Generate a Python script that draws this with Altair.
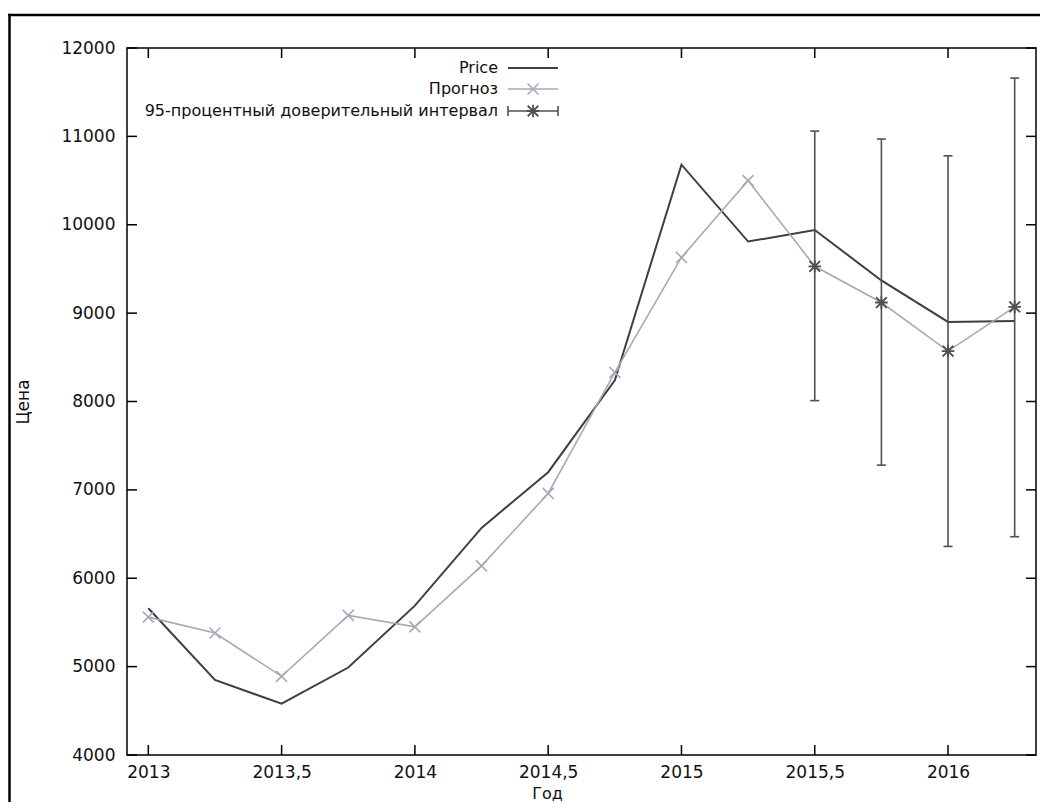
import altair as alt
import pandas as pd

# ---- data ----
quarters = [2013.0, 2013.25, 2013.5, 2013.75, 2014.0, 2014.25, 2014.5, 2014.75,
            2015.0, 2015.25, 2015.5, 2015.75, 2016.0, 2016.25]
price = [5660, 4850, 4580, 4990, 5690, 6570, 7200, 8240,
         10680, 9810, 9940, 9370, 8900, 8910]
forecast = [5560, 5380, 4890, 5580, 5450, 6140, 6960, 8330,
            9630, 10500, 9530, 9120, 8570, 9070]
ci_x = [2015.5, 2015.75, 2016.0, 2016.25]
ci_mid = [9530, 9120, 8570, 9070]
ci_low = [8010, 7280, 6360, 6470]
ci_high = [11060, 10970, 10780, 11660]

x_ticks = [2013, 2013.5, 2014, 2014.5, 2015, 2015.5, 2016]
y_ticks = [4000, 5000, 6000, 7000, 8000, 9000, 10000, 11000, 12000]
legend_labels = ["Price", "Прогноз", "95-процентный доверительный интервал"]

# ---- styling ----
W, H = 909, 707
PAD = {"left": 119, "top": 40, "right": 4, "bottom": 47}
FONT = "DejaVu Sans"
C_PRICE = "#3f3f3f"
C_FC = "#a8a8b8"
C_CI = "#505050"
X_SHAPE = "M-1,-1L1,1M-1,1L1,-1"
STAR_SHAPE = "M-1,-1L1,1M-1,1L1,-1M-1.2,0L1.2,0M0,-1.2L0,1.2"

xs = alt.Scale(domain=[2012.92, 2016.33], nice=False, zero=False)
ys = alt.Scale(domain=[4000, 12000], nice=False, zero=False)

df = pd.DataFrame({"q": quarters, "price": price, "fc": forecast})
ci = pd.DataFrame({"q": ci_x, "mid": ci_mid, "lo": ci_low, "hi": ci_high})
xt = pd.DataFrame({"q": x_ticks})
yt = pd.DataFrame({"v": y_ticks})
one = pd.DataFrame({"k": [0]})

x_axis = alt.Axis(values=x_ticks, tickSize=0, ticks=False, domain=False, grid=False,
                  labelExpr="replace(datum.value + '', '.', ',')",
                  labelFontSize=17, labelPadding=9, labelColor="#111",
                  labelFont=FONT, title="Год", titleFont=FONT, titleFontSize=16,
                  titleFontWeight="normal", titleColor="#111",
                  titleX=420, titleY=30, titleBaseline="top")
y_axis = alt.Axis(values=y_ticks, format="d", tickSize=0, ticks=False, domain=False,
                  grid=False, labelFontSize=17, labelPadding=12, labelColor="#111",
                  labelFont=FONT, title="Цена", titleFont=FONT, titleFontSize=17,
                  titleFontWeight="normal", titleColor="#111",
                  titleX=-95, titleY=H / 2, titleBaseline="bottom")


def X(field):
    return alt.X(field, type="quantitative", scale=xs, axis=x_axis, title="Год")


def Y(field):
    return alt.Y(field, type="quantitative", scale=ys, axis=y_axis, title="Цена")


price_line = alt.Chart(df).mark_line(color=C_PRICE, strokeWidth=2).encode(
    x=X("q"), y=Y("price"))
fc_line = alt.Chart(df).mark_line(color=C_FC, strokeWidth=1.6).encode(
    x=X("q"), y=Y("fc"))
fc_pts = alt.Chart(df).mark_point(shape=X_SHAPE, size=121, stroke=C_FC,
                                  strokeWidth=1.6, filled=False, opacity=1).encode(
    x=X("q"), y=Y("fc"))
ci_bar = alt.Chart(ci).mark_rule(color=C_CI, strokeWidth=1.6).encode(
    x=X("q"), y=Y("lo"), y2="hi:Q")
ci_cap_lo = alt.Chart(ci).mark_tick(color=C_CI, orient="horizontal", size=9,
                                    thickness=1.6, opacity=1).encode(
    x=X("q"), y=Y("lo"))
ci_cap_hi = alt.Chart(ci).mark_tick(color=C_CI, orient="horizontal", size=9,
                                    thickness=1.6, opacity=1).encode(
    x=X("q"), y=Y("hi"))
ci_star = alt.Chart(ci).mark_point(shape=STAR_SHAPE, size=110, stroke=C_CI,
                                   strokeWidth=1.8, filled=False, opacity=1).encode(
    x=X("q"), y=Y("mid"))

# inward tick marks on all four sides (gnuplot style)
tick_b = alt.Chart(xt).mark_rule(color="#000", strokeWidth=1.5).encode(
    x=X("q"), y=alt.value(H), y2=alt.value(H - 10))
tick_t = alt.Chart(xt).mark_rule(color="#000", strokeWidth=1.5).encode(
    x=X("q"), y=alt.value(0), y2=alt.value(10))
tick_l = alt.Chart(yt).mark_rule(color="#000", strokeWidth=1.5).encode(
    y=Y("v"), x=alt.value(0), x2=alt.value(10))
tick_r = alt.Chart(yt).mark_rule(color="#000", strokeWidth=1.5).encode(
    y=Y("v"), x=alt.value(W), x2=alt.value(W - 10))

# plot border
border = alt.Chart(one).mark_rect(fill=None, stroke="#000", strokeWidth=1.5).encode(
    x=alt.value(0), y=alt.value(0), x2=alt.value(W), y2=alt.value(H))

# key (text on the left, sample on the right, as in gnuplot)
LX, S1, S2, SM = 371, 381, 431, 406
R1, R2, R3 = 20, 41, 63
key = []
for label, ry in zip(legend_labels, [R1, R2, R3]):
    key.append(alt.Chart(one).mark_text(align="right", baseline="middle", font=FONT,
                                        fontSize=16, color="#111", text=label).encode(
        x=alt.value(LX), y=alt.value(ry)))
key.append(alt.Chart(one).mark_rule(color=C_PRICE, strokeWidth=2).encode(
    x=alt.value(S1), x2=alt.value(S2), y=alt.value(R1)))
key.append(alt.Chart(one).mark_rule(color=C_FC, strokeWidth=1.6).encode(
    x=alt.value(S1), x2=alt.value(S2), y=alt.value(R2)))
key.append(alt.Chart(one).mark_point(shape=X_SHAPE, size=121, stroke=C_FC,
                                     strokeWidth=1.6, opacity=1).encode(
    x=alt.value(SM), y=alt.value(R2)))
key.append(alt.Chart(one).mark_rule(color=C_CI, strokeWidth=1.6).encode(
    x=alt.value(S1), x2=alt.value(S2), y=alt.value(R3)))
key.append(alt.Chart(one).mark_rule(color=C_CI, strokeWidth=1.6).encode(
    x=alt.value(S1), y=alt.value(R3 - 5), y2=alt.value(R3 + 5)))
key.append(alt.Chart(one).mark_rule(color=C_CI, strokeWidth=1.6).encode(
    x=alt.value(S2), y=alt.value(R3 - 5), y2=alt.value(R3 + 5)))
key.append(alt.Chart(one).mark_point(shape=STAR_SHAPE, size=110, stroke=C_CI,
                                     strokeWidth=1.8, opacity=1).encode(
    x=alt.value(SM), y=alt.value(R3)))

# outer frame of the figure (only its left and top edges are visible),
# kept inside the drawing surface
frame_left = alt.Chart(one).mark_rule(color="#000", strokeWidth=2.5).encode(
    x=alt.value(-117.5), y=alt.value(-34.25), y2=alt.value(H + PAD["bottom"]))
frame_top = alt.Chart(one).mark_rule(color="#000", strokeWidth=2.5).encode(
    x=alt.value(-118.75), x2=alt.value(W + PAD["right"]), y=alt.value(-33))

chart = alt.layer(
    price_line, frame_left, frame_top, border, fc_line, fc_pts, ci_bar, ci_cap_lo,
    ci_cap_hi, ci_star, tick_b, tick_t, tick_l, tick_r, *key
).properties(
    width=W, height=H,
    autosize=alt.AutoSizeParams(type="none"),
    padding=PAD,
    background="white",
).configure_view(
    strokeWidth=0
)

chart.save("out.html", embed_options={"renderer": "svg", "actions": False})
